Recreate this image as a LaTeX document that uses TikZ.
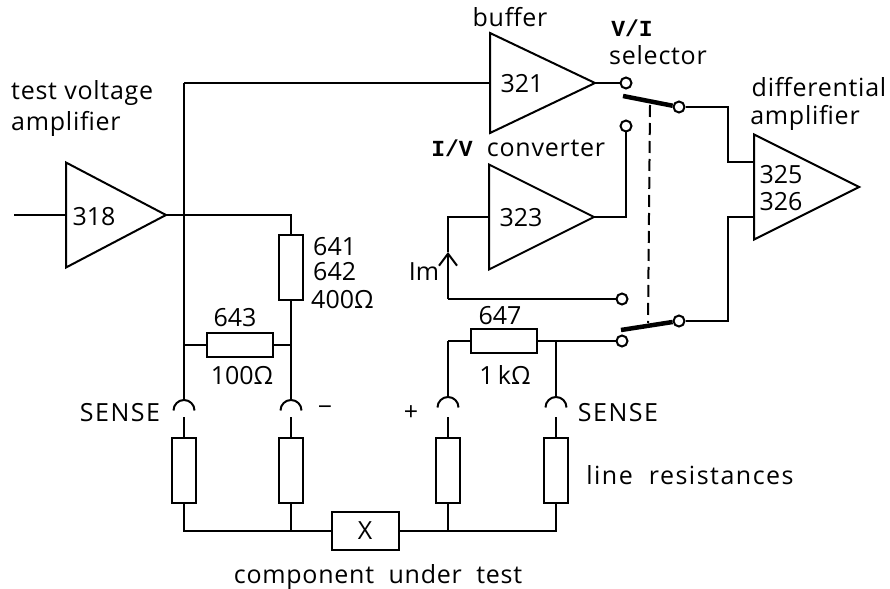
\documentclass[tikz,border=0pt]{standalone}
\usepackage{fontspec}
\setmainfont{Open Sans}
\newfontfamily\lblfont[LetterSpace=3]{Open Sans}
\newfontfamily\widefont[LetterSpace=6]{Open Sans}
\newfontfamily\vifont[Scale=0.92]{Liberation Mono Bold}
\usetikzlibrary{shapes.geometric,arrows.meta}
\tikzset{
    wire/.style={line width=2pt},
    amp/.style={isosceles triangle, isosceles triangle stretches, draw, line width=2pt, inner sep=0pt, outer sep=0pt, minimum width=105pt, minimum height=105pt, anchor=lower side},
    res/.style={rectangle, draw, line width=2pt, inner sep=0pt},
    resv/.style={res, minimum width=24pt, minimum height=65pt},
    resh/.style={res, minimum width=66pt, minimum height=24pt},
    contact/.style={circle, draw, fill=white, line width=2pt, inner sep=0pt, minimum size=11pt},
    num/.style={font=\fontsize{25}{28}\selectfont, inner sep=0pt},
    lbl/.style={font=\lblfont\fontsize{25}{28}\selectfont, inner sep=0pt},
    widelbl/.style={font=\widefont\fontsize{25}{28}\selectfont, inner sep=0pt}
}
\begin{document}
\begin{tikzpicture}[x=1pt, y=-1pt]
    \useasboundingbox (0,0) rectangle (890,588);

    % amplifiers
    \node[amp, minimum height=100pt] (a318) at (66,215) {};
    \node[amp, minimum width=100pt] (a321) at (490,83) {};
    \node[amp] (a323) at (489,217) {};
    \node[amp] (a325) at (754,187) {};

    % resistors
    \node[resv] (r641) at (291,267) {};
    \node[resh] (r643) at (240,345) {};
    \node[resh] (r647) at (504,341) {};
    \node[resv] (l1) at (184,470) {};
    \node[resv] (l2) at (291,470) {};
    \node[resv] (l3) at (448,470) {};
    \node[resv] (l4) at (556,470) {};
    \node[res, num, minimum width=67pt, minimum height=38pt] (x) at (365,531) {X};

    % switch contacts
    \node[contact] (c1) at (626,83) {};
    \node[contact] (c2) at (626,126) {};
    \node[contact] (c3) at (622,299) {};
    \node[contact] (c4) at (622,341) {};
    \node[contact] (s1) at (679,107) {};
    \node[contact] (s2) at (679,321) {};

    % sense terminals
    \foreach \n/\x/\y in {j1/184/400, j2/291/400, j3/448/397, j4/556/397} {
        \coordinate (\n) at (\x,\y);
        \coordinate (\n b) at (\x,417);
        \draw[wire] ([xshift=-10.5pt,yshift=-10.5pt]\n) arc (180:0:10.5pt and 10.5pt);
    }

    % free ends and pins
    \coordinate (in) at (14,215);
    \coordinate (top) at (184,83);
    \coordinate (n1) at (291,215);
    \coordinate (n2) at (184,345);
    \coordinate (n3) at (291,345);
    \coordinate (im) at (448,252);
    \coordinate (n4) at (448,299);
    \coordinate (n5) at (448,341);
    \coordinate (n6) at (556,341);
    \coordinate (b1) at (184,531);
    \coordinate (b4) at (556,531);
    \coordinate (p1) at (754,162);
    \coordinate (p2) at (754,217);
    \coordinate (k1) at (623,96);
    \coordinate (k2) at (621,330);
    \coordinate (d1) at (650,105);
    \coordinate (d2) at (648,323);

    \draw[wire] (in) -- (a318.lower side);
    \draw[wire] (a318.apex) -- (n1) -- (r641.north);
    \draw[wire] (top) -- (a321.lower side);
    \draw[wire] (top) -- (j1);
    \draw[wire] (r641.south) -- (j2);
    \draw[wire] (n2) -- (r643);
    \draw[wire] (r643) -- (n3);
    \draw[wire] (j3) -- (n5);
    \draw[wire, -{Straight Barb[length=12pt,width=18pt]}] (n4) -- (im);
    \draw[wire] (im) |- (a323.lower side);
    \draw[wire] (n4) -- (c3);
    \draw[wire] (n5) -- (r647);
    \draw[wire] (r647) -- (c4);
    \draw[wire] (n6) -- (j4);

    \draw[wire] (a321.apex) -- (c1);
    \draw[wire] (a323.apex) -| (c2);
    \draw[wire] (s1) -| (728,162) -- (p1);
    \draw[wire] (s2) -| (728,217) -- (p2);

    % switch blades
    \draw[line width=4.5pt] (k1) -- (s1);
    \draw[line width=4.5pt] (k2) -- (s2);
    \draw[wire, dash pattern=on 12pt off 6pt] (d1) -- (d2);

    % line resistances and component under test
    \foreach \n/\m in {j1/l1, j2/l2, j3/l3, j4/l4} {
        \draw[wire] (\n b) -- (\m.north);
    }
    \draw[wire] (l1.south) -- (b1) -- (x.west);
    \draw[wire] (l2.south) -- (291,531);
    \draw[wire] (l3.south) -- (448,531);
    \draw[wire] (l4.south) -- (b4) -- (x.east);

    % labels
    \node[lbl, anchor=west] (tl1) at (11,93) {test voltage};
    \node[lbl, anchor=west] (tl2) at (11,124) {amplifier};
    \node[num] (t318) at (94,217) {318};
    \node[num] (t321) at (522,84) {321};
    \node[num] (t323) at (521,218) {323};
    \node[num] (t325) at (781,175) {325};
    \node[num] (t326) at (781,202) {326};
    \node[lbl] (tbuf) at (510,17) {buffer};
    \node[num] (tvi) at (632,28) {\vifont V/I};
    \node[lbl] (tsel) at (658,55) {selector};
    \node[num] (tiv) at (452,148) {\vifont I/V};
    \node[lbl] (tconv) at (546,148) {converter};
    \node[lbl] (tdif) at (819,87) {differential};
    \node[lbl] (tamp) at (805,118) {amplifier};
    \node[num, anchor=west] (t641) at (313,247) {641};
    \node[num, anchor=west] (t642) at (313,272) {642};
    \node[num, anchor=west] (t400) at (311,300) {400Ω};
    \node[num] (t643) at (235,318) {643};
    \node[num] (t100) at (242,376) {100Ω};
    \node[num] (t647) at (500,316) {647};
    \node[num] (t1k) at (505,375) {1\,kΩ};
    \node[num] (tim) at (424,272) {Im};
    \node[widelbl] (ts1) at (120,413) {SENSE};
    \node[widelbl] (ts2) at (618,413) {SENSE};
    \node[num] (tminus) at (325,411) {−};
    \node[num] (tplus) at (411,413) {+};
    \node[widelbl] (tline) at (690,475) {line\ \ resistances};
    \node[lbl] (tcomp) at (378,577) {component\ \ under\ \ test};
\end{tikzpicture}
\end{document}
